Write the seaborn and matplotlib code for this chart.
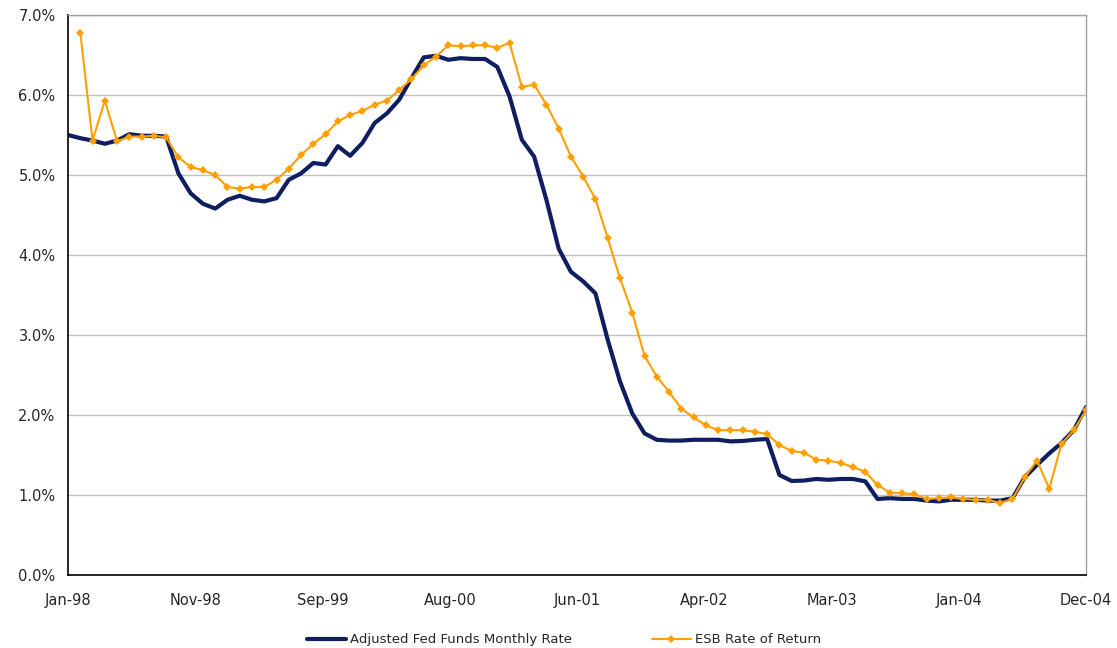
import numpy as np
import pandas as pd
import matplotlib
matplotlib.use("Agg")
import matplotlib.pyplot as plt
import seaborn as sns

# month index 0 = Jan-98 ... 83 = Dec-04
months = np.arange(84)
tick_labels = ["Jan-98", "Nov-98", "Sep-99", "Aug-00", "Jun-01",
               "Apr-02", "Mar-03", "Jan-04", "Dec-04"]

# Adjusted Fed Funds Monthly Rate (%)
fed_funds = [
    5.50, 5.46, 5.43, 5.39, 5.43, 5.51, 5.49, 5.49, 5.48, 5.02,
    4.77, 4.64, 4.58, 4.69, 4.74, 4.69, 4.67, 4.71, 4.94, 5.02,
    5.15, 5.13, 5.36, 5.24, 5.40, 5.65, 5.77, 5.94, 6.21, 6.47,
    6.49, 6.44, 6.46, 6.45, 6.45, 6.35, 5.98, 5.44, 5.23, 4.69,
    4.08, 3.79, 3.67, 3.52, 2.94, 2.42, 2.02, 1.77, 1.69, 1.68,
    1.68, 1.69, 1.69, 1.69, 1.67, 1.675, 1.69, 1.70, 1.25, 1.175,
    1.18, 1.20, 1.19, 1.20, 1.20, 1.17, 0.95, 0.96, 0.95, 0.95,
    0.93, 0.92, 0.94, 0.94, 0.94, 0.93, 0.93, 0.96, 1.22, 1.375,
    1.52, 1.65, 1.81, 2.10,
]

# ESB Rate of Return (%), starts Feb-98
esb_return = [
    np.nan, 6.78, 5.43, 5.93, 5.42, 5.48, 5.48, 5.49, 5.47, 5.22,
    5.10, 5.06, 5.00, 4.85, 4.83, 4.85, 4.85, 4.94, 5.08, 5.25,
    5.39, 5.51, 5.67, 5.75, 5.80, 5.88, 5.93, 6.06, 6.20, 6.37,
    6.48, 6.62, 6.61, 6.62, 6.62, 6.59, 6.65, 6.10, 6.13, 5.88,
    5.58, 5.23, 4.98, 4.70, 4.21, 3.71, 3.28, 2.74, 2.48, 2.29,
    2.08, 1.97, 1.87, 1.81, 1.81, 1.81, 1.79, 1.76, 1.625, 1.55,
    1.53, 1.44, 1.43, 1.40, 1.35, 1.29, 1.125, 1.03, 1.02, 1.01,
    0.95, 0.96, 0.97, 0.95, 0.94, 0.94, 0.90, 0.95, 1.22, 1.43,
    1.08, 1.64, 1.81, 2.06,
]

df = pd.DataFrame({"month": months, "fed": fed_funds, "esb": esb_return})

sns.set_style("white")
plt.rcParams["font.family"] = ["DejaVu Sans"]

fig = plt.figure(figsize=(11.17, 6.48), dpi=100)
ax = fig.add_axes([0.0609, 0.1127, 0.9114, 0.8642])

sns.lineplot(data=df, x="month", y="fed", ax=ax, color="#0E1E60",
             linewidth=3.0, label="Adjusted Fed Funds Monthly Rate")
sns.lineplot(data=df, x="month", y="esb", ax=ax, color="#FF9F00",
             linewidth=1.5, marker="D", markersize=4.5, markeredgewidth=0,
             label="ESB Rate of Return")

ax.set_xlim(0, 83)
ax.set_ylim(0, 7)
ax.set_xticks(np.linspace(0, 83, 9))
ax.set_xticklabels(tick_labels)
ax.set_yticks(np.arange(0, 8))
ax.set_yticklabels([f"{v:.1f}%" for v in range(8)])
ax.set_xlabel("")
ax.set_ylabel("")
ax.grid(axis="y", color="#C0C0C0", linewidth=1)
ax.set_axisbelow(True)

for side in ["left", "bottom"]:
    ax.spines[side].set_color("black")
    ax.spines[side].set_linewidth(1.2)
for side in ["top", "right"]:
    ax.spines[side].set_color("#A0A0A0")
    ax.spines[side].set_linewidth(1)

ax.tick_params(axis="both", direction="out", length=5, width=1, color="black",
               labelsize=10.5, pad=4)
ax.tick_params(axis="x", pad=8)

ax.legend(loc="lower center", bbox_to_anchor=(0.505, -0.016), bbox_transform=fig.transFigure,
          ncol=2, frameon=False, fontsize=9.5, columnspacing=6, handlelength=3,
          handletextpad=0.3)

fig.savefig("out.png", dpi=100)
